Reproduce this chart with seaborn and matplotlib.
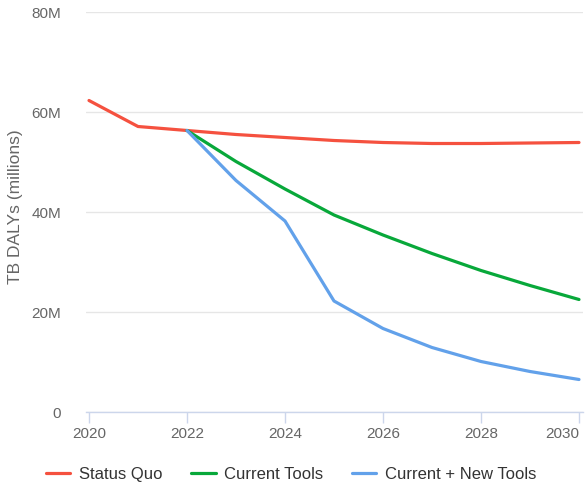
import numpy as np
import pandas as pd
import seaborn as sns
import matplotlib.pyplot as plt
from matplotlib.ticker import FuncFormatter

# data (TB DALYs, millions)
years_sq = [2020, 2021, 2022, 2023, 2024, 2025, 2026, 2027, 2028, 2029, 2030]
status_quo = [62.3, 57.1, 56.3, 55.5, 54.9, 54.3, 53.9, 53.7, 53.7, 53.8, 53.9]

years_new = [2022, 2023, 2024, 2025, 2026, 2027, 2028, 2029, 2030]
current_tools = [56.3, 50.1, 44.6, 39.4, 35.4, 31.7, 28.3, 25.3, 22.5]
current_new_tools = [56.3, 46.3, 38.2, 22.2, 16.7, 12.9, 10.1, 8.1, 6.5]

series_names = ['Status Quo', 'Current Tools', 'Current + New Tools']
colors = ['#f5513f', '#08a83a', '#62a1ea']

df = pd.concat([
    pd.DataFrame({'year': years_sq, 'value': status_quo, 'scenario': series_names[0]}),
    pd.DataFrame({'year': years_new, 'value': current_tools, 'scenario': series_names[1]}),
    pd.DataFrame({'year': years_new, 'value': current_new_tools, 'scenario': series_names[2]}),
])

sns.set_style('white')
plt.rcParams['font.family'] = ['Liberation Sans', 'DejaVu Sans']

fig = plt.figure(figsize=(5.86, 4.93), dpi=100)
# plot area: x 86..583 px, y 12..412 px
ax = fig.add_axes([86 / 586, 81 / 493, 497 / 586, 400 / 493])

sns.lineplot(data=df, x='year', y='value', hue='scenario', hue_order=series_names,
             palette=dict(zip(series_names, colors)), linewidth=2.3, ax=ax, legend=False)

ax.set_xlim(2020 - 3 / 49, 2030 + 4 / 49)
ax.set_ylim(0, 80)
ax.set_xticks([2020, 2022, 2024, 2026, 2028, 2030])
ax.set_yticks([0, 20, 40, 60, 80])
ax.yaxis.set_major_formatter(FuncFormatter(lambda v, p: '0' if v == 0 else f'{v:.0f}M'))

ax.grid(axis='y', color='#e6e6e6', linewidth=1)
ax.set_axisbelow(True)
for s in ['top', 'right', 'left']:
    ax.spines[s].set_visible(False)
ax.spines['bottom'].set_color('#ccd6eb')
ax.spines['bottom'].set_linewidth(1)

ax.tick_params(axis='x', bottom=True, colors='#ccd6eb', length=8, width=1, pad=3,
               labelcolor='#666666', labelsize=11)
ax.tick_params(axis='y', left=False, length=0, pad=18, labelcolor='#666666', labelsize=11)
# last label kept inside the figure, like the original
ax.get_xticklabels()[-1].set_horizontalalignment('right')

ax.set_xlabel('')
ax.set_ylabel('TB DALYs (millions)', fontsize=12.5, color='#666666')
ax.yaxis.set_label_coords(-0.126, 0.5125)

handles = [plt.Line2D([], [], color=c, linewidth=2.3) for c in colors]
fig.legend(handles, series_names, loc='center', bbox_to_anchor=(0.497, 0.037), ncol=3,
           frameon=False, fontsize=12, handlelength=1.45, columnspacing=1.75,
           handletextpad=0.5, labelcolor='#333333')

fig.savefig('out.png', dpi=100)
